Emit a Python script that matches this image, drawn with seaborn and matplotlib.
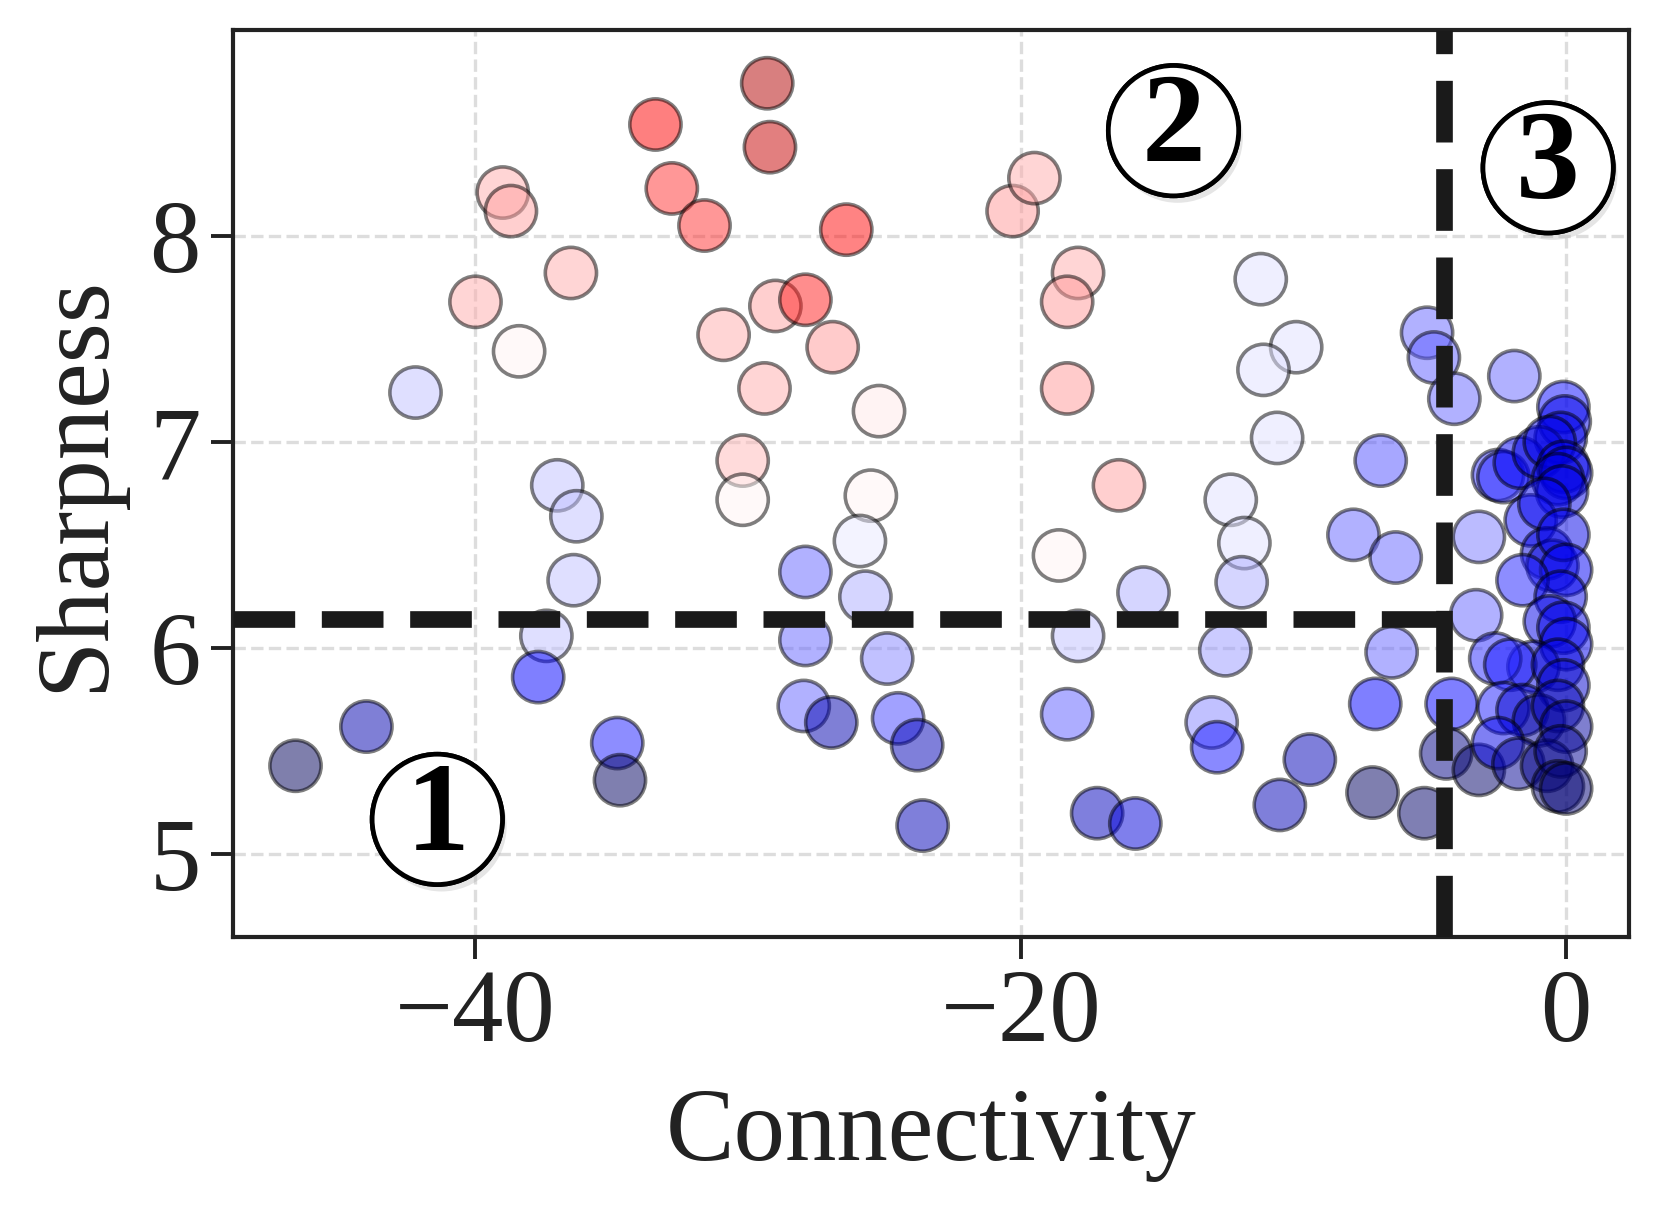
import numpy as np
import pandas as pd
import matplotlib
matplotlib.use('Agg')
import matplotlib.pyplot as plt
import matplotlib.patheffects as pe
import seaborn as sns

# values
connectivity = [
    -46.6, -44.0, -42.2, -40.0, -39.0, -38.7, -38.4, -36.5, -37.0, -36.3,
    -36.4, -37.4, -37.7, -34.8, -34.7, -33.4, -32.8, -31.6, -29.3, -29.2,
    -26.4, -30.9, -29.0, -27.9, -26.9, -29.4, -25.2, -30.2, -30.2, -25.5,
    -25.9, -27.9, -25.7, -27.9, -24.9, -27.96, -26.95, -24.5, -23.8, -23.6,
    -18.6, -17.9, -18.3, -17.2, -20.3, -19.5, -17.9, -18.3, -18.3, -16.4,
    -15.5, -15.8, -11.2, -9.9, -11.1, -10.6, -12.3, -11.8, -11.9, -5.1,
    -4.85, -4.1, -1.9, -6.8, -7.8, -6.25, -3.2, -12.5, -6.4, -3.3,
    -7.0, -4.2, -13.0, -12.8, -9.4, -7.1, -10.5, -4.4, -3.2, -5.2,
    # dense group near zero
    -0.1, -0.05, -0.2, -2.5, -2.3, -1.7, -1.0, -0.6, -0.1, 0.0,
    -0.3, -0.15, -1.3, -0.8, -0.7, -0.5, -0.1, 0.0, -1.6, -0.2,
    -0.6, -0.1, 0.0, -1.2, -2.6, -2.05, -0.3, -0.1, -2.3, -1.6,
    -1.0, -0.3, 0.0, -2.5, -1.75, -0.7, -0.2, -0.3, 0.0,
]
sharpness = [
    5.43, 5.62, 7.24, 7.68, 8.21, 8.12, 7.44, 7.82, 6.79, 6.64,
    6.33, 6.06, 5.86, 5.54, 5.36, 8.54, 8.23, 8.05, 8.74, 8.43,
    8.03, 7.52, 7.66, 7.69, 7.46, 7.26, 7.15, 6.91, 6.72, 6.74,
    6.52, 6.37, 6.25, 6.04, 5.95, 5.72, 5.64, 5.66, 5.53, 5.14,
    6.45, 6.06, 5.68, 5.20, 8.12, 8.28, 7.82, 7.68, 7.26, 6.79,
    6.27, 5.15, 7.79, 7.46, 7.35, 7.02, 6.72, 6.51, 6.32, 7.53,
    7.41, 7.21, 7.32, 6.91, 6.55, 6.44, 6.54, 5.99, 5.98, 6.16,
    5.73, 5.73, 5.64, 5.52, 5.46, 5.30, 5.24, 5.49, 5.41, 5.20,
    7.17, 7.10, 7.02, 6.84, 6.83, 6.90, 6.95, 7.00, 6.88, 6.85,
    6.82, 6.76, 6.62, 6.70, 6.46, 6.40, 6.55, 6.38, 6.33, 6.25,
    6.13, 6.10, 6.02, 5.91, 5.95, 5.92, 5.92, 5.82, 5.71, 5.70,
    5.65, 5.72, 5.62, 5.54, 5.44, 5.43, 5.50, 5.33, 5.32,
]
score = [
    0.02, 0.14, 0.44, 0.58, 0.58, 0.59, 0.51, 0.58, 0.44, 0.44,
    0.44, 0.44, 0.25, 0.28, 0.03, 0.75, 0.70, 0.70, 0.90, 0.86,
    0.74, 0.58, 0.59, 0.72, 0.60, 0.58, 0.52, 0.57, 0.51, 0.51,
    0.48, 0.35, 0.42, 0.35, 0.38, 0.35, 0.14, 0.32, 0.15, 0.15,
    0.51, 0.44, 0.34, 0.16, 0.60, 0.58, 0.58, 0.60, 0.60, 0.59,
    0.42, 0.20, 0.47, 0.47, 0.47, 0.47, 0.47, 0.47, 0.42, 0.35,
    0.34, 0.35, 0.35, 0.33, 0.35, 0.35, 0.37, 0.40, 0.35, 0.35,
    0.25, 0.25, 0.38, 0.27, 0.15, 0.03, 0.15, 0.08, 0.04, 0.04,
    0.26, 0.22, 0.22, 0.30, 0.29, 0.24, 0.21, 0.22, 0.22, 0.23,
    0.20, 0.22, 0.26, 0.22, 0.20, 0.20, 0.22, 0.24, 0.28, 0.22,
    0.22, 0.22, 0.23, 0.21, 0.29, 0.27, 0.20, 0.18, 0.28, 0.18,
    0.12, 0.15, 0.12, 0.22, 0.10, 0.08, 0.10, 0.05, 0.06,
]

region_labels = ['1', '2', '3']
region_x = [-41.4, -14.4, -0.66]
region_y = [5.17, 8.51, 8.33]

sharp_cut = 6.14
conn_cut = -4.47

df = pd.DataFrame({'Connectivity': connectivity,
                   'Sharpness': sharpness,
                   'score': score})

sns.set_theme(style='ticks')
plt.rcParams['font.family'] = ['Liberation Serif', 'DejaVu Serif']
plt.rcParams['axes.unicode_minus'] = True

fig, ax = plt.subplots(figsize=(8.285, 6.05), dpi=200)
fig.subplots_adjust(left=0.1405, right=0.983, bottom=0.2257, top=0.9755)

sns.scatterplot(data=df, x='Connectivity', y='Sharpness', hue='score',
                palette='seismic', hue_norm=(0, 1), s=340, alpha=0.5,
                edgecolor='black', linewidth=1.3, legend=False, ax=ax,
                zorder=3)

xlim = (-48.9, 2.3)
ax.set_xlim(xlim)
ax.set_ylim(4.6, 9.0)
ax.set_xticks([-40, -20, 0])
ax.set_yticks([5, 6, 7, 8])

ax.set_axisbelow(True)
ax.grid(True, ls='--', color='#dddddd', lw=1.2)

# thresholds
ax.axvline(conn_cut, color='#1a1a1a', lw=6, ls='--', zorder=4)
ax.axhline(sharp_cut, xmax=(conn_cut - xlim[0]) / (xlim[1] - xlim[0]),
           color='#1a1a1a', lw=6, ls='--', zorder=4)

for lab, tx, ty in zip(region_labels, region_x, region_y):
    t = ax.text(tx, ty, lab, fontsize=46, fontweight='bold', color='black',
                ha='center', va='center', zorder=6,
                bbox=dict(boxstyle='circle,pad=0.06', fc='white', ec='black', lw=1.7))
    t.get_bbox_patch().set_path_effects(
        [pe.withSimplePatchShadow(offset=(1.5, -2.5), shadow_rgbFace='#aaaaaa', alpha=0.3),
         pe.Normal()])

ax.set_xlabel('Connectivity', fontsize=37, color='#222222', labelpad=9)
ax.set_ylabel('Sharpness', fontsize=37, color='#222222', labelpad=9)
ax.tick_params(axis='both', labelsize=37, length=8, width=1.4,
               color='#222222', labelcolor='#222222', direction='out')
for sp in ax.spines.values():
    sp.set_linewidth(1.5)
    sp.set_color('#222222')

fig.savefig('out.png', dpi=200)
